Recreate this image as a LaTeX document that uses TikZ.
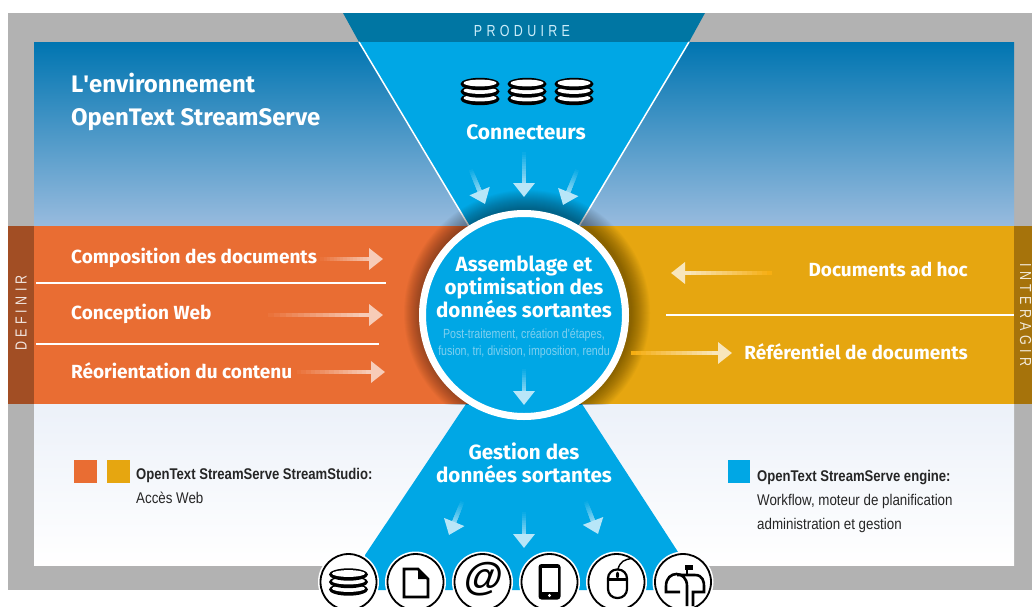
\documentclass[tikz,border=0pt]{standalone}
\usepackage{fontspec}
\setmainfont{Fira Sans}
\newfontfamily\narrowfont[FakeStretch=0.8]{Liberation Sans}
\newfontfamily\legendfont[FakeStretch=0.86,BoldFeatures={FakeStretch=0.845}]{Liberation Sans}
\newfontfamily\spacedfont[FakeStretch=0.78,LetterSpace=27]{Liberation Sans}
\newfontfamily\iconfont{Liberation Sans}
\usetikzlibrary{arrows.meta,calc}

\definecolor{skytop}{HTML}{0075B1}
\definecolor{skylow}{HTML}{98BBDE}
\definecolor{funnelblue}{HTML}{00A7E5}
\definecolor{funneldark}{HTML}{0076A3}
\definecolor{definecol}{HTML}{E96D33}
\definecolor{definedark}{HTML}{A24E24}
\definecolor{interagcol}{HTML}{E6A610}
\definecolor{interagglow}{HTML}{F6AE12}
\definecolor{interagdark}{HTML}{A6730B}
\definecolor{framegray}{HTML}{B2B2B2}
\definecolor{palelow}{HTML}{ECF1F9}
\definecolor{softgrey}{HTML}{7FD0F0}

\tikzset{
  bandtext/.style={text=white,font=\bfseries\fontsize{19}{21}\selectfont,anchor=west,inner sep=0pt},
  headtext/.style={text=white,font=\bfseries\fontsize{20.6}{23}\selectfont,align=center,inner sep=0pt},
  legendtext/.style={font=\legendfont\fontsize{15.5}{24}\selectfont,align=left,anchor=north west,inner sep=0pt,text=black!85},
  sidelabel/.style={font=\spacedfont\fontsize{16}{16}\selectfont,inner sep=0pt},
  sepline/.style={draw=white,line width=1.5pt},
  iconring/.style={draw=black,line width=1.8pt,fill=white,circle,minimum size=56pt,inner sep=0pt},
  iconline/.style={draw=black,line width=2.6pt,line join=miter}
}

% shaft colour runs from #3 to #4
\newcommand{\flowarrow}[4]{
  \coordinate (tail) at (#1);
  \coordinate (tip) at (#2);
  \foreach \t in {0,5,...,80}{
    \pgfmathtruncatemacro{\mixval}{min(100,\t*1.25)}
    \draw[line width=4pt,draw=#4!\mixval!#3] ($(tail)!\t/100!(tip)$) -- ($(tail)!.9!(tip)$);
  }
  \draw[line width=4pt,draw=#4,-{Triangle[length=14pt,width=21pt]}] ($(tail)!.8!(tip)$) -- (tip);
}

% stack of three discs
\newcommand{\discstack}[1]{
  \foreach \dy in {7.5,0,-7.5}{
    \fill[black] ($(#1)+(0,\dy)$) ellipse (19.5 and 6.2);
    \fill[white] ($(#1)+(0,\dy-1)$) ellipse (16.5 and 3.4);
  }
}

\begin{document}
\begin{tikzpicture}[x=1pt,y=-1pt]
    \clip (0,0) rectangle (1032,606);
    \fill[white] (0,0) rectangle (1032,606);

    % grey frame and background panels
    \fill[framegray] (8,13) rectangle (1032,590);
    \shade[top color=skytop,bottom color=skylow] (34,42) rectangle (1014,226);
    \shade[top color=palelow,bottom color=white] (34,404) rectangle (1014,565);

    % coloured bands
    \fill[definecol] (34,226) rectangle (524,404);
    \fill[interagcol] (524,226) rectangle (1014,404);
    \fill[definedark] (8,226) rectangle (34,404);
    \fill[interagdark] (1014,226) rectangle (1032,404);

    % funnel, top and bottom
    \fill[funneldark] (343,13) -- (705,13) -- (689,42) -- (359,42) -- cycle;
    \fill[funnelblue] (359,42) -- (689,42) -- (579,226) -- (469,226) -- cycle;
    \fill[funnelblue] (466,404) -- (582,404) -- (680,555) -- (680,590) -- (365,590) -- (365,555) -- cycle;
    \draw[sepline] (359,42) -- (469,226);
    \draw[sepline] (689,42) -- (579,226);

    % shadow of the round hub
    \begin{scope}
        \clip (34,190) rectangle (1014,404);
        \foreach \r in {105,106,...,123}{
            \fill[black,opacity=.024] (527,313) circle (\r);
        }
    \end{scope}
    \node[circle,fill=funnelblue,draw=white,line width=7pt,minimum size=203pt,inner sep=0pt] (hub) at (524,315) {};

    % top
    \node[sidelabel,text=white!80!funnelblue] (produire) at (522,31) {PRODUIRE};
    \node[anchor=west,inner sep=0pt,text=white,font=\bfseries\fontsize{23.9}{33}\selectfont,align=left] (titre) at (71,101.5) {L\textquotesingle environnement\\OpenText StreamServe};
    \coordinate (stackA) at (480,91.5);
    \coordinate (stackB) at (527,91.5);
    \coordinate (stackC) at (574,91.5);
    \discstack{stackA}
    \discstack{stackB}
    \discstack{stackC}
    \node[headtext,font=\bfseries\fontsize{21}{23}\selectfont] (connecteurs) at (526,132) {Connecteurs};

    \flowarrow{470,168}{485,204}{funnelblue}{white!72!funnelblue}
    \flowarrow{524,150}{524,197}{funnelblue}{white!72!funnelblue}
    \flowarrow{578,168}{563,205}{funnelblue}{white!72!funnelblue}

    % hub text
    \node[headtext] (assemblage) at (524,287) {Assemblage et\\optimisation des\\données sortantes};
    \node[font=\narrowfont\fontsize{13.3}{17}\selectfont,text=softgrey,align=center,inner sep=0pt] (detail) at (524,343.5) {Post-traitement, création d'étapes,\\fusion, tri, division, imposition, rendu};
    \flowarrow{524,367}{524,405}{funnelblue}{white!72!funnelblue}

    % left band
    \node[bandtext] (compo) at (71,257.5) {Composition des documents};
    \node[bandtext] (concept) at (71,313.5) {Conception Web};
    \node[bandtext] (reorient) at (71,371) {Réorientation du contenu};
    \flowarrow{317,259}{383,259}{definecol}{white!65!definecol}
    \flowarrow{262,315}{383,315}{definecol}{white!65!definecol}
    \flowarrow{292,372}{385,372}{definecol}{white!65!definecol}
    \coordinate (lineAa) at (36,283);
    \coordinate (lineAb) at (386,283);
    \coordinate (lineBa) at (36,344);
    \coordinate (lineBb) at (379,344);
    \draw[sepline] (lineAa) -- (lineAb);
    \draw[sepline] (lineBa) -- (lineBb);
    \node[sidelabel,rotate=90,text=white!85!definedark] (definir) at (21,313) {DEFINIR};

    % right band
    \node[bandtext,anchor=east] (adhoc) at (968,269) {Documents ad hoc};
    \node[bandtext,anchor=east] (referentiel) at (968,352) {Référentiel de documents};
    \flowarrow{772,273}{671,273}{interagglow}{white!72!interagcol}
    \flowarrow{631,353}{732,353}{interagglow}{white!72!interagcol}
    \coordinate (lineCa) at (666,315);
    \coordinate (lineCb) at (1014,315);
    \draw[sepline] (lineCa) -- (lineCb);
    \node[sidelabel,rotate=-90,text=white!85!interagdark] (interagir) at (1025.5,315) {INTERAGIR};

    % lower part
    \node[headtext] (gestion) at (524,463) {Gestion des\\données sortantes};
    \flowarrow{463,500}{449,535}{funnelblue}{white!72!funnelblue}
    \flowarrow{524,510}{524,548}{funnelblue}{white!72!funnelblue}
    \flowarrow{585,500}{598,534}{funnelblue}{white!72!funnelblue}

    % legend
    \fill[definecol] (74,460) rectangle (97,483);
    \fill[interagcol] (107,460) rectangle (130,483);
    \node[legendtext] (studio) at (136,468) {\textbf{OpenText StreamServe StreamStudio:}\\Accès Web};
    \fill[funnelblue] (728,460) rectangle (750,483);
    \node[legendtext] (engine) at (757,470.5) {\textbf{OpenText StreamServe engine:}\\Workflow, moteur de planification\\administration et gestion};

    % icons
    \foreach \nm/\cx in {iconA/348.5,iconB/415.5,iconC/482.5,iconD/549.5,iconE/616.5,iconF/683}{
        \fill[white] (\cx,582) circle (30.5);
        \node[iconring] (\nm) at (\cx,582) {};
    }
    \coordinate (stackD) at (348.5,582);
    \discstack{stackD}
    % document
    \draw[iconline] (404,569) -- (418,569) -- (428,579) -- (428,597) -- (404,597) -- cycle;
    \fill[black] (418,569) -- (428,579) -- (418,579) -- cycle;
    % at sign
    \node[font=\iconfont\bfseries\itshape\fontsize{39}{39}\selectfont,inner sep=0pt,xslant=.15] (arobase) at (483,579) {@};
    % phone
    \fill[black,rounded corners=3pt] (538.5,564) rectangle (560.5,599.5);
    \fill[white] (541.5,568) rectangle (557.5,592);
    \fill[white] (549.5,595.5) circle (1.6);
    % mouse
    \draw[iconline,line width=2.2pt,rounded corners=9pt] (608,569.5) rectangle (627,598);
    \draw[iconline,line width=2.2pt] (608,579.5) -- (627,579.5);
    \draw[iconline,line width=1.4pt] (618,569) .. controls (620,562) and (624,559) .. (633,558.5);
    \fill[black] (617.5,575) ellipse (1.6 and 3.4);
    % mailbox
    \draw[iconline] (680,592) -- (666,592) -- (666,586) .. controls (666,570) and (687,570) .. (687,586) -- (687,606);
    \draw[iconline] (677,575) -- (695,575) .. controls (703,575) and (704,582) .. (704,586) -- (704,592) -- (693,592) -- (693,606);
    \draw[iconline] (687,565) -- (687,575);
    \fill[black] (685,565) rectangle (692.5,570);
\end{tikzpicture}
\end{document}
